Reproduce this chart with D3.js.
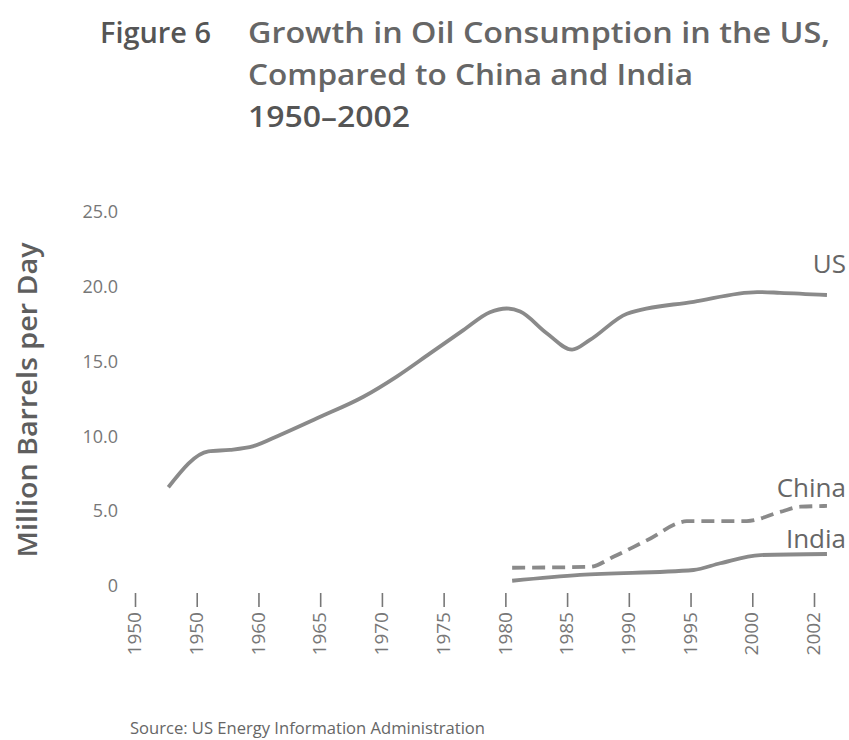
<!DOCTYPE html>
<html>
<head>
<meta charset="utf-8">
<script src="https://cdn.jsdelivr.net/npm/d3@7"></script>
<style>
  body { margin: 0; background: #fff; }
  svg { display: block; }
  text { font-family: "Open Sans", "Noto Sans", sans-serif; }
</style>
</head>
<body>
<svg width="849" height="740"></svg>
<script>
// tick labels along the bottom, as printed (the second one really says 1950)
const tickLabels = ["1950", "1950", "1960", "1965", "1970", "1975", "1980", "1985", "1990", "1995", "2000", "2002"];
const yTicks = [0, 5, 10, 15, 20, 25];

// positions are in tick-slot units (0 = first tick), values in million barrels per day
const usPos = [0.54, 1.19, 1.54, 1.92, 2.35, 2.94, 3.70, 4.24, 4.78, 5.32, 5.75, 6.02, 6.24, 6.67, 7.08, 7.37, 7.97, 9.05, 10.08, 10.45, 11.21];
const usVal = [6.6, 9.0, 9.1, 9.35, 10.1, 11.2, 12.65, 14.0, 15.55, 17.1, 18.3, 18.55, 18.35, 16.9, 15.8, 16.45, 18.2, 19.0, 19.65, 19.6, 19.45];

const chinaPos = [6.11, 7.37, 7.75, 8.29, 8.94, 9.05, 9.91, 10.45, 10.78, 11.21];
const chinaVal = [1.22, 1.28, 1.95, 3.05, 4.33, 4.34, 4.34, 4.95, 5.3, 5.35];

const indiaPos = [6.11, 7.21, 9.05, 9.48, 10.13, 11.21];
const indiaVal = [0.35, 0.74, 1.07, 1.52, 2.07, 2.14];

const svg = d3.select("svg");

const x = d3.scaleLinear().domain([0, tickLabels.length - 1]).range([135, 814]);
const y = d3.scaleLinear().domain([0, 25]).range([586, 212]);

// title block - the print face is wider than Open Sans, so stretch each line
const titleLines = [
  { t: "Figure 6", x: 100, y: 43, w: 111, c: "#555" },
  { t: "Growth in Oil Consumption in the US,", x: 248, y: 43, w: 582, c: "#666" },
  { t: "Compared to China and India", x: 248, y: 85, w: 445, c: "#666" },
  { t: "1950\u20132002", x: 248, y: 127, w: 162, c: "#555" }
];
svg.append("g").selectAll("text")
  .data(titleLines)
  .join("text")
  .attr("x", d => d.x)
  .attr("y", d => d.y)
  .attr("textLength", d => d.w)
  .attr("lengthAdjust", "spacingAndGlyphs")
  .attr("font-size", 28)
  .attr("font-weight", 600)
  .attr("fill", d => d.c)
  .text(d => d.t);

// y axis
const yAxis = svg.append("g")
  .attr("transform", "translate(118,0)")
  .call(d3.axisLeft(y).tickValues(yTicks).tickSize(0).tickPadding(0)
    .tickFormat(d => d === 0 ? "0" : d3.format(".1f")(d)));
yAxis.select(".domain").remove();
yAxis.selectAll("text")
  .attr("font-family", "DejaVu Sans, sans-serif")
  .attr("font-size", 18)
  .attr("fill", "#777");

svg.append("text")
  .attr("transform", "translate(37,400) rotate(-90)")
  .attr("text-anchor", "middle")
  .attr("font-size", 27)
  .attr("font-weight", 600)
  .attr("textLength", 315)
  .attr("lengthAdjust", "spacingAndGlyphs")
  .attr("fill", "#5e5e5e")
  .text("Million Barrels per Day");

// x axis
const xAxis = svg.append("g")
  .attr("transform", "translate(0,593)")
  .call(d3.axisBottom(x).tickValues(d3.range(tickLabels.length)).tickSize(14).tickPadding(0)
    .tickFormat(i => tickLabels[i]));
xAxis.select(".domain").remove();
xAxis.selectAll("line").attr("stroke", "#777").attr("stroke-width", 1.6);
xAxis.selectAll("text")
  .attr("font-family", "DejaVu Sans, sans-serif")
  .attr("font-size", 19)
  .attr("fill", "#777")
  .attr("text-anchor", "end")
  .attr("transform", "translate(-1,19) rotate(-90)")
  .attr("x", 0)
  .attr("y", 0)
  .attr("dy", "0.35em");

// lines
const line = d3.line()
  .x(d => x(d[0]))
  .y(d => y(d[1]))
  .curve(d3.curveMonotoneX);

const series = [
  { name: "US", pts: d3.zip(usPos, usVal), dash: null },
  { name: "China", pts: d3.zip(chinaPos, chinaVal), dash: "13,7" },
  { name: "India", pts: d3.zip(indiaPos, indiaVal), dash: null }
];

svg.append("g").selectAll("path")
  .data(series)
  .join("path")
  .attr("d", d => line(d.pts))
  .attr("fill", "none")
  .attr("stroke", "#8a8a8a")
  .attr("stroke-width", 3.8)
  .attr("stroke-linejoin", "round")
  .attr("stroke-dasharray", d => d.dash);

// series labels, right aligned near the line ends
const labelY = { US: 273, China: 497, India: 548 };
svg.append("g").selectAll("text")
  .data(series)
  .join("text")
  .attr("x", 846)
  .attr("y", d => labelY[d.name])
  .attr("text-anchor", "end")
  .attr("font-size", 26)
  .attr("fill", "#666")
  .text(d => d.name);

svg.append("text")
  .attr("x", 130)
  .attr("y", 734)
  .attr("font-size", 16)
  .attr("textLength", 355)
  .attr("lengthAdjust", "spacingAndGlyphs")
  .attr("fill", "#666")
  .text("Source: US Energy Information Administration");
</script>
</body>
</html>
